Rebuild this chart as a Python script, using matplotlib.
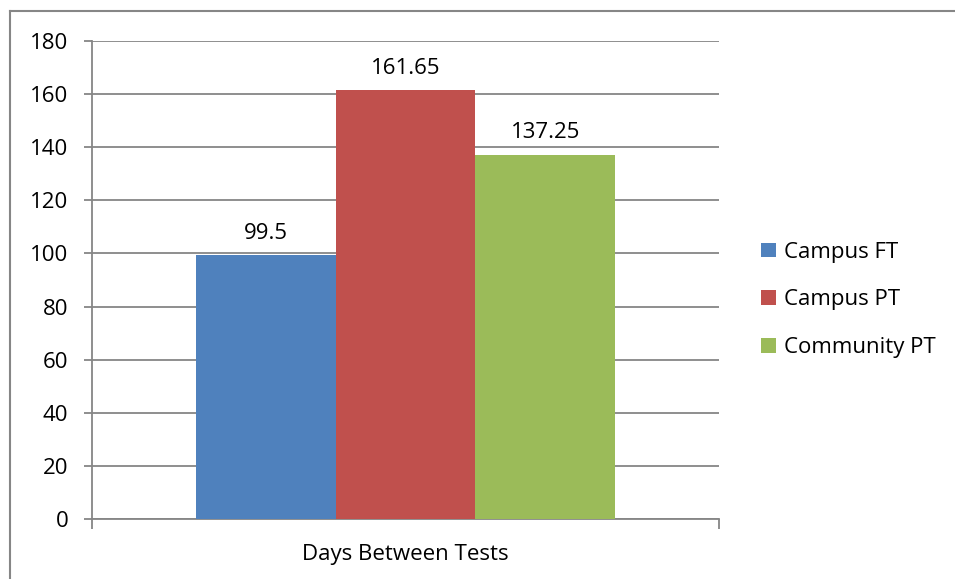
import matplotlib.pyplot as plt
from matplotlib.lines import Line2D
from matplotlib.patches import Patch

plt.rcParams['font.family'] = ['Open Sans', 'DejaVu Sans']

# data
series = ['Campus FT', 'Campus PT', 'Community PT']
values = [99.5, 161.65, 137.25]
labels = ['99.5', '161.65', '137.25']
category = 'Days Between Tests'
colors = ['#4F81BD', '#C0504D', '#9BBB59']
grid_c = '#868686'
fs = 16

fig = plt.figure(figsize=(9.55, 5.79), dpi=100)
ax = fig.add_axes([0.0963, 0.1036, 0.6566, 0.8256])

w = 0.2228
offsets = [-w, 0, w]
for off, v, lab, c, name in zip(offsets, values, labels, colors, series):
    ax.bar(off, v, width=w, color=c, label=name, zorder=3)
    ax.annotate(lab, (off, v), xytext=(0, 8), textcoords='offset points',
                ha='center', va='bottom', fontsize=fs, color='#000000')

ax.set_xlim(-0.5, 0.5)
ax.set_ylim(0, 180)
ax.set_yticks(range(0, 181, 20))
ax.yaxis.grid(True, color=grid_c, linewidth=1.3, zorder=0)
ax.set_axisbelow(True)

ax.set_xticks([-0.5, 0.5])
ax.set_xticklabels(['', ''])
ax.set_xticks([0], minor=True)
ax.set_xticklabels([category], minor=True)
ax.tick_params(axis='x', which='major', length=7, width=1.3, color=grid_c, direction='out')
ax.tick_params(axis='x', which='minor', length=0, pad=18, labelsize=fs)
ax.tick_params(axis='y', length=6, width=1.3, color=grid_c, direction='out', pad=11, labelsize=fs)

for s in ['top', 'right']:
    ax.spines[s].set_visible(False)
for s in ['left', 'bottom']:
    ax.spines[s].set_color(grid_c)
    ax.spines[s].set_linewidth(1.3)

handles = [Patch(facecolor=c, edgecolor='none') for c in colors]
fig.legend(handles, series, loc='center left', bbox_to_anchor=(0.776, 0.482),
           frameon=False, fontsize=fs, handlelength=0.65, handleheight=0.65,
           handletextpad=0.4, labelspacing=1.2)

# outer chart border (left and top edges visible)
x0 = 10 / 955
y0 = 1 - 11 / 579
fig.add_artist(Line2D([x0, x0], [0, y0], transform=fig.transFigure, color=grid_c, lw=1.5))
fig.add_artist(Line2D([x0, 1], [y0, y0], transform=fig.transFigure, color=grid_c, lw=1.5))

fig.savefig('out.png', dpi=100, facecolor='white')
